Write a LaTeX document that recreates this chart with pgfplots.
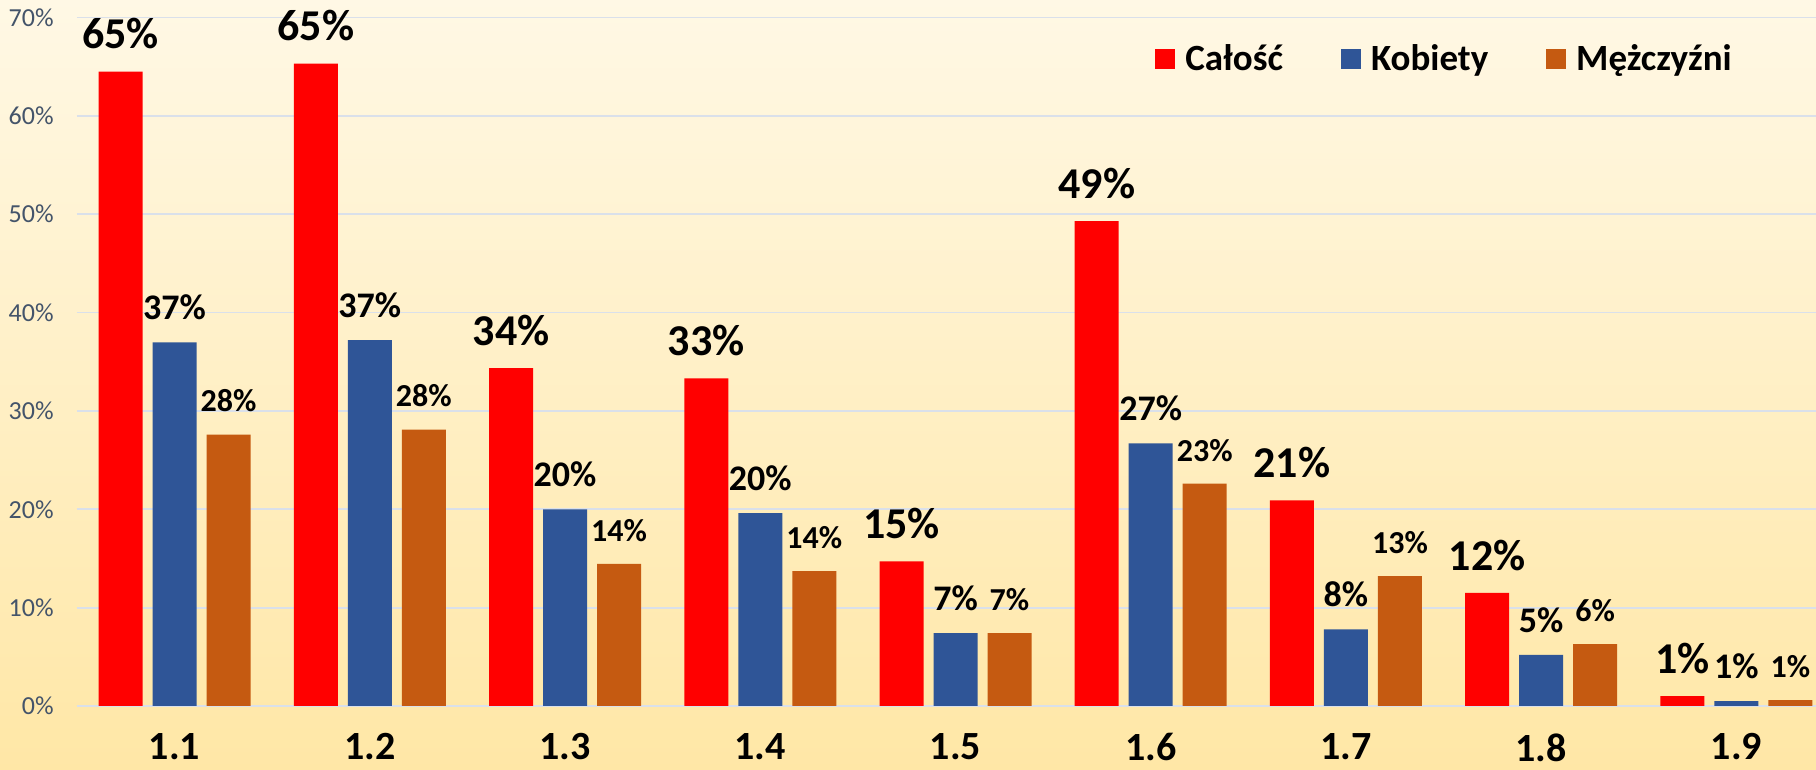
\documentclass[border=0pt]{standalone}
\usepackage{fontspec}
\setmainfont{Carlito}
\usepackage{pgfplots}
\pgfplotsset{compat=1.18}
\definecolor{cred}{RGB}{255,0,0}
\definecolor{cblue}{RGB}{47,85,151}
\definecolor{corange}{RGB}{197,90,17}
\definecolor{bgtop}{RGB}{255,248,229}
\definecolor{bgbot}{RGB}{255,231,166}
\definecolor{gridc}{RGB}{218,224,234}
\definecolor{ytickc}{RGB}{68,84,106}
\begin{document}
\begin{tikzpicture}
\useasboundingbox (0,0) rectangle (908pt,385pt);
\clip (0,0) rectangle (908pt,385pt);
\shade[top color=bgtop, bottom color=bgbot] (0,0) rectangle (908pt,385pt);
\begin{axis}[
  at={(38.5pt,32pt)}, anchor=south west,
  scale only axis, width=878.5pt, height=344.25pt,
  xmin=-0.5, xmax=8.5, ymin=0, ymax=70,
  ybar=5pt, bar width=22pt,
  xtick={0,...,8}, xticklabels={1.1,1.2,1.3,1.4,1.5,1.6,1.7,1.8,1.9},
  xticklabel style={font=\bfseries\fontsize{20}{20}\selectfont, anchor=north, inner sep=0pt, yshift=-13.5pt},
  ytick={0,10,...,70}, yticklabels={0\%,10\%,20\%,30\%,40\%,50\%,60\%,70\%},
  yticklabel style={font=\fontsize{13}{13}\selectfont, text=ytickc, anchor=east, inner sep=0pt, xshift=-11.5pt},
  major tick length=0pt,
  axis line style={draw=none},
  ymajorgrids, grid style={gridc, line width=0.9pt},
  nodes near coords, point meta=explicit symbolic,
  every node near coord/.append style={anchor=south, inner sep=0pt, yshift=11pt, text=black},
  legend columns=3,
  legend style={at={(axis description cs:0.6135,0.94)}, anchor=west, draw=none, fill=none, inner sep=0pt,
    font=\bfseries\fontsize{18.5}{18.5}\selectfont, nodes={inner sep=0pt},
    /tikz/every odd column/.append style={column sep=5pt},
    /tikz/every even column/.append style={column sep=29pt}},
  legend image code/.code={\fill[#1] (0pt,-5pt) rectangle (10pt,5pt);},
]
\addplot[fill=cred, draw=none, nodes near coords style={font=\bfseries\fontsize{22}{22}\selectfont}] coordinates {
 (0,64.5) [65\%] (1,65.3) [65\%] (2,34.35) [34\%] (3,33.3) [33\%] (4,14.7) [15\%]
 (5,49.3) [49\%] (6,20.9) [21\%] (7,11.5) [12\%] (8,1.0) [1\%]};
\addlegendentry{Całość}
\addplot[fill=cblue, draw=none, nodes near coords style={font=\bfseries\fontsize{18}{18}\selectfont}] coordinates {
 (0,36.96) [37\%] (1,37.2) [37\%] (2,20.0) [20\%] (3,19.6) [20\%] (4,7.4) [7\%]
 (5,26.7) [27\%] (6,7.8) [8\%] (7,5.2) [5\%] (8,0.5) [1\%]};
\addlegendentry{Kobiety}
\addplot[fill=corange, draw=none, nodes near coords style={font=\bfseries\fontsize{16}{16}\selectfont}] coordinates {
 (0,27.6) [28\%] (1,28.1) [28\%] (2,14.45) [14\%] (3,13.7) [14\%] (4,7.4) [7\%]
 (5,22.6) [23\%] (6,13.2) [13\%] (7,6.3) [6\%] (8,0.6) [1\%]};
\addlegendentry{Mężczyźni}
\end{axis}
\end{tikzpicture}
\end{document}
